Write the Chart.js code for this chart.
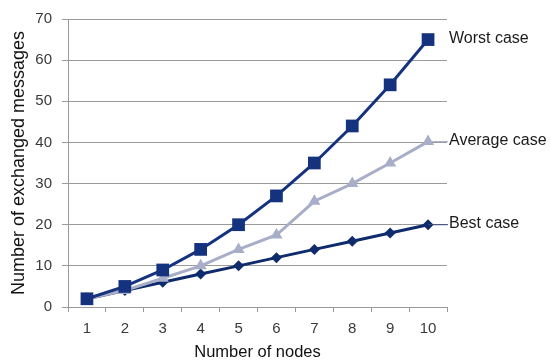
<!DOCTYPE html>
<html>
<head>
<meta charset="utf-8">
<script src="https://cdn.jsdelivr.net/npm/chart.js@4"></script>
<style>
html,body{margin:0;padding:0;background:#fff;}
#wrap{width:551px;height:362px;position:relative;}
</style>
</head>
<body>
<div id="wrap"><canvas id="c" width="551" height="362"></canvas></div>
<script>
const categories = ['1','2','3','4','5','6','7','8','9','10'];
const worstCase = [2, 5, 9, 14, 20, 27, 35, 44, 54, 65];
const averageCase = [2, 4, 7, 10, 14, 17.5, 25.7, 30, 35, 40.2];
const bestCase = [2, 4, 6, 8, 10, 12, 14, 16, 18, 20];
const seriesNames = ['Worst case', 'Average case', 'Best case'];
const yTicks = [0, 10, 20, 30, 40, 50, 60, 70];

const colWorst = '#15327f';
const colAvg = '#a8adc8';
const colBest = '#0e2b6c';

const endLabels = {
  id: 'endLabels',
  afterDatasetsDraw(chart) {
    const ctx = chart.ctx;
    ctx.save();
    ctx.font = '16px "Liberation Sans", Arial, sans-serif';
    ctx.textBaseline = 'middle';
    ctx.textAlign = 'left';
    chart.data.datasets.forEach((ds, i) => {
      const meta = chart.getDatasetMeta(i);
      const pt = meta.data[meta.data.length - 1];
      const lx = 448;
      if (i > 0) {
        ctx.strokeStyle = i === 1 ? colAvg : '#3a4a7a';
        ctx.lineWidth = 1;
        ctx.beginPath();
        ctx.moveTo(pt.x, pt.y);
        ctx.lineTo(lx, pt.y);
        ctx.stroke();
      }
      ctx.fillStyle = '#1a1a1a';
      ctx.fillText(ds.label, lx + 1, pt.y - 1);
    });
    ctx.restore();
  }
};

new Chart(document.getElementById('c'), {
  type: 'line',
  data: {
    labels: categories,
    datasets: [
      { label: seriesNames[0], data: worstCase, borderColor: colWorst, backgroundColor: colWorst,
        borderWidth: 3, pointStyle: 'rect', pointRadius: 9, pointBorderWidth: 0, tension: 0 },
      { label: seriesNames[1], data: averageCase, borderColor: colAvg, backgroundColor: colAvg,
        borderWidth: 3, pointStyle: 'triangle', pointRadius: 7, pointBorderWidth: 0, tension: 0 },
      { label: seriesNames[2], data: bestCase, borderColor: colBest, backgroundColor: colBest,
        borderWidth: 3, pointStyle: 'rectRot', pointRadius: 5.5, pointBorderWidth: 0, tension: 0 }
    ]
  },
  options: {
    responsive: false,
    animation: false,
    devicePixelRatio: 1,
    layout: { padding: { left: 0, right: 104, top: 17, bottom: 0 } },
    plugins: { legend: { display: false }, tooltip: { enabled: false } },
    scales: {
      x: {
        type: 'category',
        offset: true,
        afterFit(s) { s.height = 55; },
        grid: { offset: true, drawOnChartArea: false, drawTicks: true, tickLength: 5, color: '#9a9a9a' },
        border: { color: '#9a9a9a', width: 1 },
        ticks: { color: '#3a3a3a', font: { size: 15, family: '"Liberation Sans", Arial, sans-serif' }, padding: 8, maxRotation: 0 },
        title: { display: true, text: 'Number of nodes', color: '#111',
          font: { size: 16.5, family: '"Liberation Sans", Arial, sans-serif' }, padding: { top: 0, bottom: 0 } }
      },
      y: {
        min: 0, max: 70,
        afterFit(s) { s.width = 68; },
        afterBuildTicks(s) { s.ticks = yTicks.map(v => ({ value: v })); },
        grid: { color: '#9a9a9a', tickLength: 6, drawTicks: true },
        border: { color: '#9a9a9a', width: 1 },
        ticks: { color: '#3a3a3a', font: { size: 15, family: '"Liberation Sans", Arial, sans-serif' }, padding: 10 },
        title: { display: true, text: 'Number of exchanged messages', color: '#111',
          font: { size: 18, family: '"Liberation Sans", Arial, sans-serif' }, padding: { top: 8, bottom: 0 } }
      }
    }
  },
  plugins: [endLabels]
});
</script>
</body>
</html>
